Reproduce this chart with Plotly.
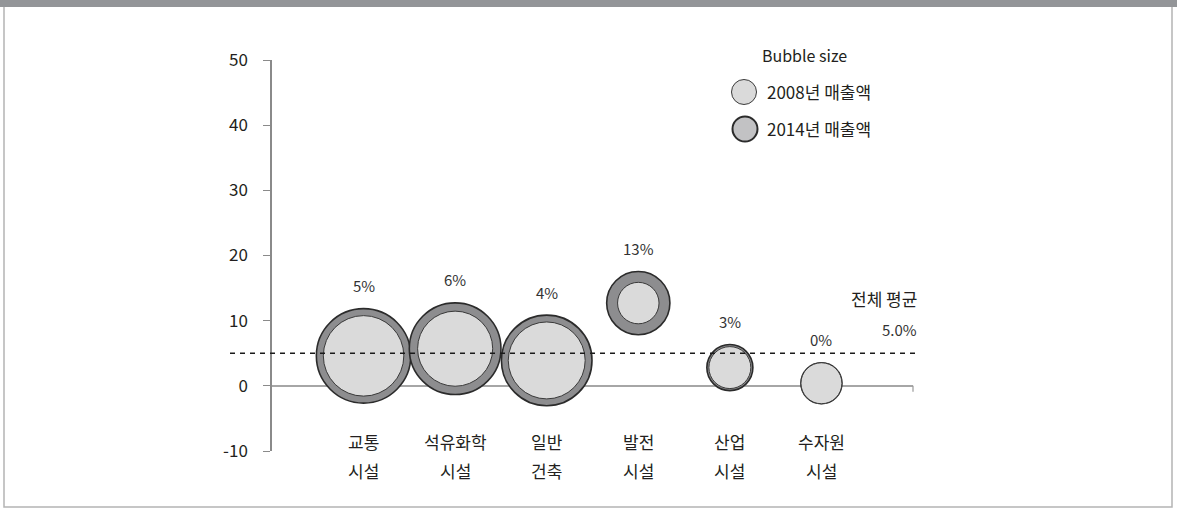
import math
import plotly.graph_objects as go

# ---------------- data ----------------
cat_line1 = ["교통", "석유화학", "일반", "발전", "산업", "수자원"]
cat_line2 = ["시설", "시설", "건축", "시설", "시설", "시설"]
growth = [4.6, 5.7, 3.9, 12.7, 2.8, 0.4]          # y values (%)
sales_2008 = [16.2, 14.1, 14.8, 4.3, 4.4, 4.2]     # bubble size (relative)
sales_2014 = [22.3, 21.0, 20.5, 10.0, 5.3, 4.2]    # bubble size (relative)
avg_growth = 5.0
y_ticks = [-10, 0, 10, 20, 30, 40, 50]
legend_title = "Bubble size"
legend_labels = ["2008년 매출액", "2014년 매출액"]
avg_label = "전체 평균"

# ---------------- styling ----------------
FONT = "Noto Sans CJK KR"
TXT = "#231f20"
RING = "#8d8d8f"
INNER = "#dadada"
SIZEREF = 0.005
W, H = 1177, 509
L, R, T, B = 272, 264, 60, 58
PW, PH = W - L - R, H - T - B


def px_x(px):
    return (px - L) / PW


def px_y(py):
    return (H - B - py) / PH


xs = list(range(len(cat_line1)))

fig = go.Figure()
fig.add_trace(go.Scatter(
    x=xs, y=growth, mode="markers", name=legend_labels[1],
    marker=dict(size=sales_2014, sizemode="area", sizeref=SIZEREF,
                color=RING, line=dict(color="#2b2b2b", width=1.6), opacity=1),
    hoverinfo="skip", showlegend=False))
fig.add_trace(go.Scatter(
    x=xs, y=growth, mode="markers", name=legend_labels[0],
    marker=dict(size=sales_2008, sizemode="area", sizeref=SIZEREF,
                color=INNER, line=dict(color="#3a3a3a", width=1), opacity=1),
    hoverinfo="skip", showlegend=False))

annotations = []
# growth labels above bubbles
for i, (g, s) in enumerate(zip(growth, sales_2014)):
    r = 0.5 * math.sqrt(2 * s / SIZEREF)
    annotations.append(dict(x=i, y=g, xref="x", yref="y", text=f"{round(g):.0f}%",
                            showarrow=False, yanchor="middle", yshift=r + 23,
                            font=dict(family=FONT, size=15, color="#333333")))
# category labels (two lines)
for i, (a, b) in enumerate(zip(cat_line1, cat_line2)):
    annotations.append(dict(x=i, y=0, xref="x", yref="paper", text=a, showarrow=False,
                            yanchor="middle", yshift=10,
                            font=dict(family=FONT, size=17, color=TXT)))
    annotations.append(dict(x=i, y=0, xref="x", yref="paper", text=b, showarrow=False,
                            yanchor="middle", yshift=-19,
                            font=dict(family=FONT, size=17, color=TXT)))
# average labels
annotations.append(dict(x=px_x(919), y=avg_growth, xref="paper", yref="y", text=avg_label,
                        showarrow=False, xanchor="right", yanchor="middle", yshift=55,
                        font=dict(family=FONT, size=17, color=TXT)))
annotations.append(dict(x=px_x(919), y=avg_growth, xref="paper", yref="y",
                        text=f"{avg_growth:.1f}%", showarrow=False, xanchor="right",
                        yanchor="middle", yshift=24,
                        font=dict(family=FONT, size=15, color="#333333")))
# legend texts
annotations.append(dict(x=px_x(804), y=px_y(55), xref="paper", yref="paper", text=legend_title,
                        showarrow=False, xanchor="center", yanchor="middle",
                        font=dict(family=FONT, size=16, color=TXT)))
for lab, cy in zip(legend_labels, [92, 128]):
    annotations.append(dict(x=px_x(765), y=px_y(cy), xref="paper", yref="paper", text=lab,
                            showarrow=False, xanchor="left", yanchor="middle",
                            font=dict(family=FONT, size=17, color=TXT)))

shapes = [
    # frame
    dict(type="rect", xref="paper", yref="paper", x0=px_x(4), x1=px_x(1172),
         y0=px_y(507), y1=px_y(6), line=dict(color="#b4b4b4", width=1.5), layer="below"),
    # top bar
    dict(type="rect", xref="paper", yref="paper", x0=px_x(0), x1=px_x(W),
         y0=px_y(7), y1=px_y(0), line=dict(width=0), fillcolor="#939598"),
    # average dashed line
    dict(type="line", xref="paper", yref="y", x0=px_x(230), x1=px_x(915),
         y0=avg_growth, y1=avg_growth, line=dict(color="#1a1a1a", width=1.5, dash="5px,5px"),
         layer="above"),
    # end tick of zero line
    dict(type="line", xref="paper", yref="y", x0=1, x1=1, ysizemode="pixel", yanchor=0,
         y0=0, y1=-6, line=dict(color="#999999", width=1.2)),
    # legend icons
    dict(type="circle", xref="paper", yref="paper", xsizemode="pixel", ysizemode="pixel",
         xanchor=px_x(744), yanchor=px_y(92), x0=-12.5, x1=12.5, y0=-12.5, y1=12.5,
         fillcolor=INNER, line=dict(color="#3a3a3a", width=1)),
    dict(type="circle", xref="paper", yref="paper", xsizemode="pixel", ysizemode="pixel",
         xanchor=px_x(745), yanchor=px_y(129), x0=-12.5, x1=12.5, y0=-12.5, y1=12.5,
         fillcolor="#c2c2c4", line=dict(color="#2b2b2b", width=2)),
]

fig.update_layout(
    width=W, height=H, autosize=False,
    margin=dict(l=L, r=R, t=T, b=B, pad=0),
    paper_bgcolor="white", plot_bgcolor="white",
    font=dict(family=FONT, color=TXT),
    xaxis=dict(range=[-1, 6], showgrid=False, zeroline=False, showline=False,
               showticklabels=False, ticks="", fixedrange=True),
    yaxis=dict(range=[-10, 50], tickvals=y_ticks, ticktext=[str(v) for v in y_ticks],
               showgrid=False, zeroline=True, zerolinecolor="#a6a6a6", zerolinewidth=1.5,
               showline=True, linecolor="#8a8a8a", linewidth=1.5,
               ticks="outside", ticklen=7, tickcolor="#8a8a8a", tickwidth=1.2,
               ticklabelstandoff=12,
               tickfont=dict(family=FONT, size=17, color=TXT), fixedrange=True),
    annotations=annotations, shapes=shapes, showlegend=False,
)

fig.write_html("out.html")
